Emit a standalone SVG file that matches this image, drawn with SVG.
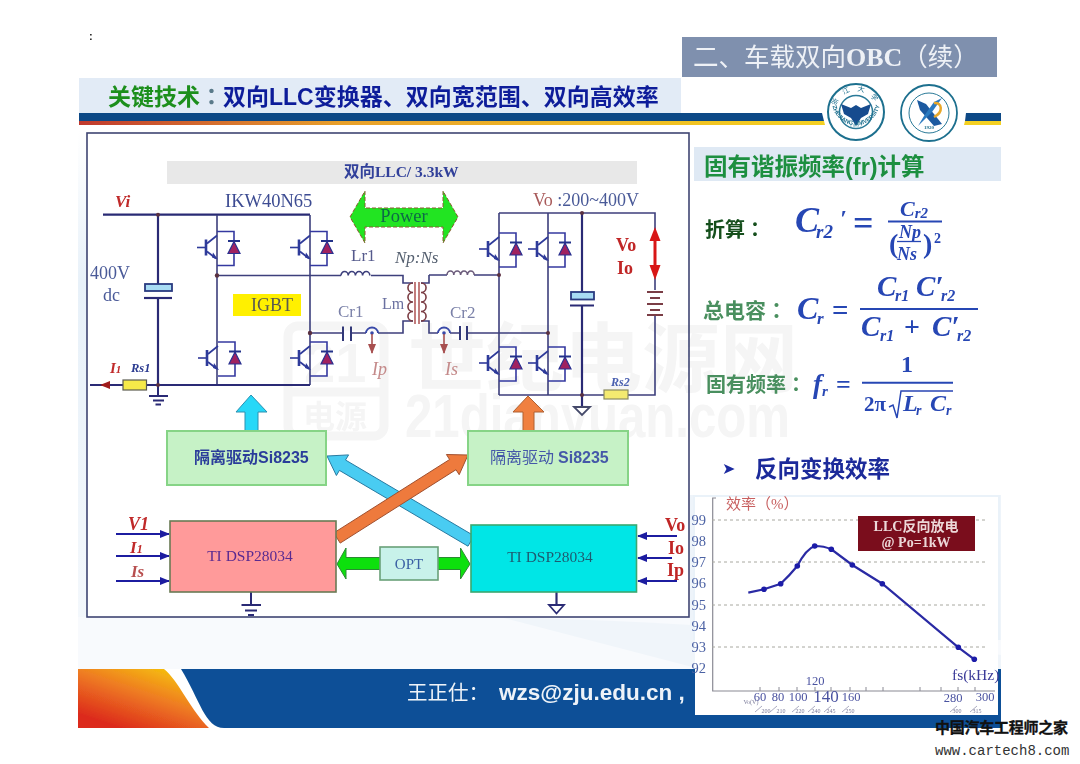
<svg xmlns="http://www.w3.org/2000/svg" xmlns:xlink="http://www.w3.org/1999/xlink" width="1080" height="764" viewBox="0 0 1080 764">
<style>
text{font-family:"Liberation Serif","Noto Sans CJK SC",serif}
.w{fill:none;stroke:#3d3f7c;stroke-width:1.6}
.wb{fill:none;stroke:#2a2c74;stroke-width:2.2}
.gy{fill:#555a8c;font-size:17px}
.red{fill:#c02626;font-weight:bold;font-size:18px}
.redi{fill:#c02a2a;font-weight:bold;font-style:italic;font-size:17px}
.pi{fill:#c48a8a;font-style:italic;font-size:18px}
.m{fill:#2846b4;font-style:italic;font-weight:bold;font-family:"Liberation Serif","DejaVu Serif",serif}
.mu{fill:#2846b4;font-weight:bold}
.gl{fill:#4a8f5e;font-weight:bold;font-size:21px}
.yl{fill:#4c62a4;font-size:14.500px;text-anchor:end}
.xl{fill:#4a52a0;font-size:12.500px;text-anchor:middle}
.xs{fill:#7a7a99;font-size:6px;text-anchor:middle}
.sl{stroke:#8a8aa6;stroke-width:.7}
.grid{stroke:#a8a8a0;stroke-width:1;stroke-dasharray:3 3}
.drv{fill:#c6f2c6;stroke:#86d486;stroke-width:2}
.yel{fill:#f6ea4a;stroke:#5a5a50;stroke-width:1.2}
.in{fill:none;stroke:#1c1ca0;stroke-width:2}
.wm{fill:#f5f5f5;font-weight:bold;font-family:"Liberation Sans","Noto Sans CJK SC",sans-serif}
</style>
<defs>
<filter id="soft" x="0" y="0" width="100%" height="100%"><feGaussianBlur stdDeviation="0.45"/></filter>
<linearGradient id="fire" x1="0" y1="1" x2="0.75" y2="0"><stop offset="0.15" stop-color="#dc2a1c"/><stop offset="0.6" stop-color="#ee7a22"/><stop offset="1" stop-color="#f6c30c"/></linearGradient>
<linearGradient id="und" x1="0" y1="0" x2="1" y2="0"><stop offset="0" stop-color="#c0392f"/><stop offset="0.35" stop-color="#e8a02c"/><stop offset="1" stop-color="#f4d020"/></linearGradient>
<linearGradient id="pale" x1="0" y1="0" x2="0" y2="1"><stop offset="0" stop-color="#fff"/><stop offset="0.3" stop-color="#e8f1f9"/><stop offset="1" stop-color="#f4f8fc"/></linearGradient>
<marker id="ahb" markerWidth="10" markerHeight="8" refX="9" refY="4" orient="auto" markerUnits="userSpaceOnUse"><path d="M0 0L10 4L0 8Z" fill="#1c1ca0"/></marker>
<marker id="ahr" markerWidth="10" markerHeight="8" refX="9" refY="4" orient="auto" markerUnits="userSpaceOnUse"><path d="M0 0L10 4L0 8Z" fill="#a85050"/></marker>
<g id="igbt">
<path d="M-20 0H-12" fill="none" stroke="#2f3a9a" stroke-width="1.6"/>
<path d="M-11 -8V8" fill="none" stroke="#2f3a9a" stroke-width="2.6"/>
<path d="M-10 -4L0 -12M-10 4L-1 11" fill="none" stroke="#2f3a9a" stroke-width="1.7"/>
<path d="M-4 5L1 12L-5 10Z" fill="#2f3a9a"/>
<path d="M0 -16H17V18H0" fill="none" stroke="#3438a0" stroke-width="1.6"/>
<path d="M11 -6.500H23" fill="none" stroke="#22308a" stroke-width="2"/>
<path d="M17 -6L11 6H23Z" fill="#a02060" stroke="#2a3090" stroke-width="1.2"/>
</g>
<g id="sense"><path d="M-6 0A6 5.500 0 0 1 6 0" fill="none" stroke="#3848a8" stroke-width="1.8"/><circle r="1.800" fill="#3848a8"/><path d="M0 1V20" stroke="#a85050" stroke-width="1.600" marker-end="url(#ahr)" fill="none"/></g>
</defs>
<rect width="1080" height="764" fill="#fff"/>
<g filter="url(#soft)">
<g id="background">
<path d="M78 130H87V640H78Z" fill="url(#pale)"/>
<path d="M78 617H1001V669H78Z" fill="#f8fafd"/>
<path d="M500 617Q800 625 1001 655V669H700Z" fill="#f0f5fa"/>
<path d="M690 495H1001V640H690Z" fill="#eef4fa"/>
</g>
<g id="header">
<rect x="682" y="37" width="315" height="40" fill="#7f90ae"/>
<text x="693" y="66" font-size="25.500px" fill="#eef1f6">二、车载双向<tspan font-weight="bold" font-size="26px">OBC</tspan>（续）</text>
<rect x="79" y="78" width="602" height="35" fill="#e2ebf6"/>
<text x="108" y="105" font-size="23px" font-weight="bold" fill="#0f1f9a" style="font-family:'Liberation Sans','Noto Sans CJK SC',sans-serif"><tspan fill="#1f8f1f">关键技术</tspan><tspan fill="#5a7a8a" style="font-family:'Noto Sans CJK TC',sans-serif">：</tspan>双向LLC变换器、双向宽范围、双向高效率</text>
<path d="M79 113H822L824 121H79Z" fill="#114a86"/>
<path d="M79 121H824L825 125H79Z" fill="url(#und)"/>
<path d="M966 113H1001V121H965Z" fill="#114a86"/>
<path d="M965 121H1001V125H964Z" fill="#f4d020"/>
<text x="89" y="40" font-size="11px" font-weight="bold" fill="#222" style="font-family:'Liberation Sans',sans-serif">:</text>
</g>
<g id="logo-zju">
<circle cx="856" cy="112" r="28" fill="#fff" stroke="#1d6f8e" stroke-width="2"/>
<circle cx="856" cy="112" r="16.500" fill="#fff" stroke="#2a7a98" stroke-width="1.500"/>
<path d="M841 104L851 108L856 105L861 108L871 104L868 114L861 118L856 126L851 118L844 114Z" fill="#134c8e"/>
<path id="zjuArc" d="M832.500 106A24 24 0 0 0 879.500 106" fill="none"/>
<path id="zjuTop" d="M835 112A21 21 0 0 1 877 112" fill="none"/>
<text font-size="5.800px" fill="#1d6f8e" font-weight="bold" style="font-family:'Liberation Sans',sans-serif"><textPath href="#zjuArc" xlink:href="#zjuArc">ZHEJIANG UNIVERSITY</textPath></text>
<text font-size="7px" fill="#1d6f8e"><textPath href="#zjuTop" xlink:href="#zjuTop" startOffset="6">浙　江　大　学</textPath></text>
<text x="856" y="127" font-size="4.500px" fill="#1d6f8e" text-anchor="middle">1 8 9 7</text>
</g>
<g id="logo-college">
<circle cx="929" cy="113" r="28" fill="#fff" stroke="#1d6f8e" stroke-width="1.800"/>
<circle cx="929" cy="113" r="20" fill="#fff" stroke="#2a7a98" stroke-width="1"/>
<path d="M917 100L926 104L942 124L934 126L920 110Z" fill="#1b5aa0"/>
<path d="M942 98L932 112L918 126L924 116L934 102Z" fill="#2c7ac0"/>
<path d="M934 103C942 102 944 112 934 117" fill="none" stroke="#e8a82a" stroke-width="2.500"/>
<text x="929" y="129" font-size="5px" fill="#1d6f8e" text-anchor="middle" font-weight="bold">1920</text>
</g>
<g id="watermark">
<g fill="none" stroke="#f5f5f5" stroke-width="9"><rect x="288" y="326" width="96" height="110" rx="10"/><path d="M288 392H384"/></g>
<text class="wm" x="304" y="382" font-size="56px">21</text>
<text class="wm" x="303" y="428" font-size="32px">电源</text>
<text class="wm" x="408" y="386" font-size="76px" textLength="390" lengthAdjust="spacingAndGlyphs">世纪电源网</text>
<text class="wm" x="405" y="437" font-size="61px" textLength="385" lengthAdjust="spacingAndGlyphs">21dianyuan.com</text>
</g>
<g id="frame"><rect x="87" y="133" width="602" height="484" fill="none" stroke="#3e4472" stroke-width="1.600"/></g>
<g id="connectors">
<path class="wb" d="M103 214.700H310M158 214.700V284M158 298V385"/>
<path class="w" d="M217 215V385M310 215V385"/>
<path class="wb" d="M90 385H310"/>
<path class="w" d="M217 275.500H341M371 275.500H403V283H413M413 321H403V333H378M366 333H351M343 333H310"/>
<path class="w" d="M429 275V283H421M421 321H429V333H438M450 333H460M467 333H548M429 275H447M474 275H499"/>
<path class="w" d="M341 275.500a3.600 4 0 0 1 7.200 0a3.600 4 0 0 1 7.200 0a3.600 4 0 0 1 7.200 0a3.600 4 0 0 1 7.200 0"/>
<path class="w" d="M447 275a3.400 4 0 0 1 6.800 0a3.400 4 0 0 1 6.800 0a3.400 4 0 0 1 6.800 0a3.400 4 0 0 1 6.800 0" style="stroke:#6a5a7a"/>
<path class="w" d="M413 283a5 4.700 0 0 0 0 9.500a5 4.700 0 0 0 0 9.500a5 4.700 0 0 0 0 9.500a5 4.700 0 0 0 0 9.500" style="stroke:#7a3c44"/>
<path class="w" d="M421 283a5 4.700 0 0 1 0 9.500a5 4.700 0 0 1 0 9.500a5 4.700 0 0 1 0 9.500a5 4.700 0 0 1 0 9.500" style="stroke:#7a3c44"/>
<path d="M415 282V324M419 282V324" stroke="#a84848" stroke-width="1.400" fill="none"/>
<path d="M343 326.500V341M351 326.500V341M460 326V340M467 326V340" stroke="#303878" stroke-width="2" fill="none"/>
<path class="w" d="M499 213V395M548 213V395"/>
<path class="w" d="M499 213H655V290M655 315V395H628M604 395H499"/>
<path class="wb" d="M582 213V292M582 306V407"/>
<path class="wb" d="M144 298H172"/>
<path d="M570 305.500H594" stroke="#2a2c74" stroke-width="2"/>
<path d="M647 292H663M650 298H660M647 304H663M650 310H660M647 315H663" stroke="#7a3c44" stroke-width="1.800" fill="none"/>
<path d="M158 385V395M149 396H168M153 400.500H164M155.500 404.500H161" stroke="#2a2c74" stroke-width="2" fill="none"/>
<path d="M574 407H590L582 415Z" fill="#fff" stroke="#444a6a" stroke-width="1.800"/>
<path d="M110 385H103" stroke="#a01c1c" stroke-width="2" fill="none"/>
<path d="M110 381L100 385L110 389Z" fill="#a01c1c"/>
<g fill="#5a3040"><circle cx="158" cy="214.700" r="2"/><circle cx="158" cy="385" r="2"/><circle cx="217" cy="275.500" r="2.200"/><circle cx="310" cy="333" r="2.200"/><circle cx="499" cy="275" r="2"/><circle cx="548" cy="333" r="2"/><circle cx="582" cy="213" r="2"/><circle cx="582" cy="395" r="2"/></g>
<use href="#sense" xlink:href="#sense" x="372" y="333"/>
<use href="#sense" xlink:href="#sense" x="444" y="333"/>
<path class="in" d="M116 534H169" marker-end="url(#ahb)"/>
<path class="in" d="M116 556H169" marker-end="url(#ahb)"/>
<path class="in" d="M116 581H169" marker-end="url(#ahb)"/>
<path d="M677 536H638" stroke="#1c1ca0" stroke-width="1.800" marker-end="url(#ahb)"/>
<path d="M672 558H638" stroke="#1c1ca0" stroke-width="1.800" marker-end="url(#ahb)"/>
<path d="M677 581H638" stroke="#1c1ca0" stroke-width="1.800" marker-end="url(#ahb)"/>
<path d="M251 592V605M241.500 605H261M245 610.500H257M248 615H254" stroke="#2a2c74" stroke-width="2" fill="none"/>
<path d="M556.500 592V605" stroke="#2a2c74" stroke-width="2.200"/>
<path d="M549 605H564L556.500 613.500Z" fill="#fff" stroke="#2a2c74" stroke-width="1.800"/>
<polygon points="474,535.800 345.500,460 348.600,454.900 327,456 336.400,475.500 339.400,470.400 468,546.200" fill="#48ccf2" stroke="#2a7aa0" stroke-width="1"/>
<polygon points="340.200,543.100 333.800,532.900 449.600,459.500 446.400,454.500 468,455 459.200,474.700 456,469.700" fill="#ee7a3c" stroke="#a05030" stroke-width="1"/>
<polygon points="251,395 267,412 258,412 258,431 245,431 245,412 236,412" fill="#28d8f8" stroke="#2a90b0" stroke-width="1"/>
<polygon points="528,396 544,412 534,412 534,431 523,431 523,412 513,412" fill="#f08040" stroke="#b06030" stroke-width="1"/>
<polygon points="337,564 346,548 346,557.500 460.500,557.500 460.500,548 470,564 460.500,579 460.500,569.500 346,569.500 346,579" fill="#10e010" stroke="#2a8a30" stroke-width="1"/>
<polygon points="350,217 365,191 365,208 443,208 443,191 458,217 443,243 443,227 365,227 365,243" fill="#22e422" stroke="#8a5a30" stroke-width="1" stroke-dasharray="4 2"/>
<path d="M655 240V265" stroke="#d81818" stroke-width="3"/>
<path d="M655 227L660.500 241H649.500ZM655 280L660.500 265H649.500Z" fill="#d81818"/>
</g>
<g id="n-igbt-q1"><use href="#igbt" xlink:href="#igbt" x="217" y="247.500"/></g>
<g id="n-igbt-q2"><use href="#igbt" xlink:href="#igbt" x="310" y="247.500"/></g>
<g id="n-igbt-q3"><use href="#igbt" xlink:href="#igbt" x="218" y="358"/></g>
<g id="n-igbt-q4"><use href="#igbt" xlink:href="#igbt" x="310" y="358"/></g>
<g id="n-igbt-q5"><use href="#igbt" xlink:href="#igbt" x="499" y="249"/></g>
<g id="n-igbt-q6"><use href="#igbt" xlink:href="#igbt" x="548" y="249"/></g>
<g id="n-igbt-q7"><use href="#igbt" xlink:href="#igbt" x="499" y="363"/></g>
<g id="n-igbt-q8"><use href="#igbt" xlink:href="#igbt" x="548" y="363"/></g>
<g id="n-cap-in"><rect x="145" y="284" width="27" height="7" fill="#a8dcf4" stroke="#2a3a80" stroke-width="1.800"/></g>
<g id="n-cap-out"><rect x="571" y="292" width="23" height="7.500" fill="#a8dcf4" stroke="#2a3a80" stroke-width="1.800"/></g>
<g id="n-rs1"><rect class="yel" x="123" y="380" width="23.500" height="10"/><text x="131" y="372" font-size="12.500px" font-weight="bold" font-style="italic" fill="#2a3a90">Rs1</text></g>
<g id="n-rs2"><rect class="yel" x="604" y="390" width="24" height="9" style="fill:#f4ea70;stroke:#8a8a60"/><text x="611" y="386" font-size="12px" font-style="italic" font-weight="bold" fill="#4a60b0">Rs2</text></g>
<g id="n-title"><rect x="167" y="161" width="470" height="23" fill="#e8e8e8"/><text x="344" y="177" font-size="15.500px" font-weight="bold" fill="#30409a">双向LLC/ 3.3kW</text></g>
<g id="n-igbt-label"><rect x="233" y="294" width="68" height="22" fill="#fff000"/><text x="251" y="311" font-size="18px" fill="#5a5a50">IGBT</text></g>
<g id="labels">
<text x="115" y="207" class="redi">Vi</text>
<text x="225" y="207" font-size="18.500px" fill="#3c4c92">IKW40N65</text>
<text x="90" y="279" font-size="18px" fill="#4a5a98">400V</text>
<text x="103" y="301" font-size="18px" fill="#4a5a98">dc</text>
<text x="110" y="373" class="redi" style="font-size:15px">I<tspan font-size="11px">1</tspan></text>
<text x="351" y="261" class="gy">Lr1</text>
<text x="338" y="317" class="gy" style="fill:#7a80a8">Cr1</text>
<text x="395" y="263" font-size="17px" font-style="italic" fill="#556070">Np:Ns</text>
<text x="382" y="309" class="gy" style="fill:#6a70a0;font-size:16px">Lm</text>
<text x="450" y="318" class="gy" style="fill:#7a80a8">Cr2</text>
<text x="372" y="375" class="pi">Ip</text>
<text x="445" y="375" class="pi">Is</text>
<text x="533" y="206" font-size="18px" fill="#4a5a98"><tspan fill="#a85a5a">Vo </tspan>:200~400V</text>
<text x="616" y="251" class="red">Vo</text>
<text x="617" y="274" class="red">Io</text>
<text x="128" y="530" class="redi" style="font-size:18px">V1</text>
<text x="130" y="553" class="redi">I<tspan font-size="12px">1</tspan></text>
<text x="131" y="577" class="redi" style="fill:#b85050">Is</text>
<text x="665" y="531" class="red">Vo</text>
<text x="668" y="554" class="red">Io</text>
<text x="667" y="576" class="red">Ip</text>
</g>
<g id="n-power"><text x="404" y="222" text-anchor="middle" font-size="18.500px" fill="#0e6a46">Power</text></g>
<g id="n-driver-l"><rect class="drv" x="167" y="431" width="159" height="54"/><text x="194" y="463" font-size="16px" font-weight="bold" fill="#2a3c9a">隔离驱动<tspan style="font-family:'Liberation Sans',sans-serif">Si8235</tspan></text></g>
<g id="n-driver-r"><rect class="drv" x="468" y="431" width="160" height="54"/><text x="490" y="463" font-size="16px" fill="#4458a8">隔离驱动 <tspan font-weight="bold" style="font-family:'Liberation Sans',sans-serif">Si8235</tspan></text></g>
<g id="n-dsp-l"><rect x="170" y="521" width="166" height="71" fill="#ff9a9a" stroke="#6a7a54" stroke-width="1.600"/><text x="250" y="561" text-anchor="middle" font-size="15.500px" fill="#5a2a90">TI DSP28034</text></g>
<g id="n-dsp-r"><rect x="471" y="525" width="165.500" height="67" fill="#06e6e6" stroke="#3aa870" stroke-width="1.600"/><text x="550" y="562" text-anchor="middle" font-size="15.500px" fill="#1c5a70">TI DSP28034</text></g>
<g id="n-opt"><rect x="380" y="547" width="58" height="33" fill="#c8f2ea" stroke="#6aa078" stroke-width="1.600"/><text x="409" y="569" text-anchor="middle" font-size="15px" fill="#3a60a4">OPT</text></g>
<g id="formulas">
<rect x="694" y="147" width="307" height="34" fill="#dfe9f4"/>
<text x="704" y="175" font-size="23.500px" font-weight="bold" fill="#1f8f3f" style="font-family:'Liberation Sans','Noto Sans CJK SC',sans-serif">固有谐振频率(fr)计算</text>
<text x="705" y="237" font-size="20px" font-weight="bold" fill="#15501f" style="font-family:'Noto Sans CJK TC',sans-serif">折算：</text>
<text class="m" x="795" y="232" font-size="36px">C</text><text class="m" x="816" y="238" font-size="19px">r2</text>
<text class="m" x="840" y="226" font-size="24px">′</text>
<text class="mu" x="853" y="235" font-size="36px">=</text>
<path d="M888 221.500H942" stroke="#2846b4" stroke-width="1.800"/>
<text class="m" x="900" y="216" font-size="22px">C<tspan font-size="15px" dy="2">r2</tspan></text>
<text class="m" x="899" y="238" font-size="18px">Np</text>
<path d="M897 241.500H921" stroke="#2846b4" stroke-width="1.300"/>
<text class="m" x="897" y="260" font-size="18px">Ns</text>
<text class="mu" x="889" y="253" font-size="28px" font-weight="normal">(</text><text class="mu" x="923" y="253" font-size="28px" font-weight="normal">)</text>
<text class="mu" x="934" y="243" font-size="14px">2</text>
<text class="gl" x="703" y="318" style="font-family:'Noto Sans CJK TC',sans-serif">总电容：</text>
<text class="m" x="797" y="319" font-size="32px">C</text><text class="m" x="817" y="324" font-size="17px">r</text>
<text class="mu" x="832" y="320" font-size="29px">=</text>
<path d="M860 309H978" stroke="#2846b4" stroke-width="2"/>
<text class="m" x="877" y="296" font-size="29px">C</text><text class="m" x="895" y="301" font-size="16px">r1</text>
<text class="m" x="916" y="296" font-size="29px">C′</text><text class="m" x="941" y="301" font-size="16px">r2</text>
<text class="m" x="861" y="336" font-size="29px">C</text><text class="m" x="880" y="341" font-size="16px">r1</text>
<text class="mu" x="904" y="336" font-size="28px">+</text>
<text class="m" x="932" y="336" font-size="29px">C′</text><text class="m" x="957" y="341" font-size="16px">r2</text>
<text class="gl" x="706" y="392" font-size="19px" style="font-family:'Noto Sans CJK TC',sans-serif;font-size:20px">固有频率：</text>
<text class="m" x="813" y="393" font-size="27px">f</text><text class="m" x="822" y="396" font-size="15px">r</text>
<text class="mu" x="836" y="393" font-size="26px">=</text>
<path d="M862 382.700H953" stroke="#2846b4" stroke-width="2"/>
<text class="mu" x="907" y="372" font-size="24px" text-anchor="middle" font-weight="normal">1</text>
<text class="mu" x="864" y="411" font-size="21px" font-weight="normal">2π</text>
<path d="M889 407L893 405L897 418L901 391H953" fill="none" stroke="#2846b4" stroke-width="1.500"/>
<text class="m" x="903" y="411" font-size="24px">L</text><text class="m" x="916" y="415" font-size="14px">r</text>
<text class="m" x="930" y="411" font-size="24px">C</text><text class="m" x="946" y="415" font-size="14px">r</text>
<text x="722" y="474" font-size="16px" fill="#1a2aa0" style="font-family:'DejaVu Sans',sans-serif">➤</text>
<text x="755" y="477" font-size="22.500px" font-weight="bold" fill="#1a2a9a" style="font-family:'Liberation Sans','Noto Sans CJK SC',sans-serif">反向变换效率</text>
</g>
<g id="footer">
<path d="M78 669H164C178 680 192 712 209 728H78Z" fill="url(#fire)"/>
<path d="M181 669H1001V728H224C205 728 200 700 181 669Z" fill="#0a5097"/>
<text x="407" y="700" font-size="20.500px" fill="#eef2f8">王正仕：</text>
<text x="499" y="700" font-size="22.500px" font-weight="bold" fill="#eef2f8" style="font-family:'Liberation Sans',sans-serif">wzs@zju.edu.cn ,</text>
</g>
<g id="chart">
<rect x="695" y="495" width="303" height="220" fill="#fff"/>
<path d="M693 495H1000V640H998V497H695V640H693Z" fill="#eaf2f9"/>
<path d="M716 498H712.700V691H995" fill="none" stroke="#8a8a94" stroke-width="1.200"/>
<g stroke="#8a8a94" stroke-width="1"><path d="M760 691v-4M779 691v-4M797 691v-4M815 691v-4M831 691v-4M850 691v-4M866 691v-4M883 691v-4M920 691v-4M941 691v-4M958 691v-4M975 691v-4"/></g>
<path class="grid" d="M712 520H985M712 562H985M712 605H985M712 647H985"/>
<text class="yl" x="706" y="525">99</text><text class="yl" x="706" y="546">98</text><text class="yl" x="706" y="567">97</text><text class="yl" x="706" y="588">96</text><text class="yl" x="706" y="610">95</text><text class="yl" x="706" y="631">94</text><text class="yl" x="706" y="652">93</text><text class="yl" x="706" y="673">92</text>
<text x="726" y="509" font-size="15px" fill="#c86060">效率（%）</text>
<rect x="858" y="516" width="117" height="35" fill="#7a0c1c"/>
<text x="916" y="531" text-anchor="middle" font-size="14px" font-weight="bold" fill="#ecd8d8">LLC反向放电</text>
<text x="916" y="547" text-anchor="middle" font-size="14px" font-weight="bold" fill="#ecd8d8">@ Po=1kW</text>
<path d="M748.300 592.700L764 589.300L780.700 583.700Q790 575 797.300 566Q806 549 814.700 546Q824 546 831.300 549.300L852.300 565L882.300 583.700L958.300 647.300L974.300 659.300" fill="none" stroke="#2a2aa4" stroke-width="2.200"/>
<g fill="#1c1ca8"><circle cx="764" cy="589.300" r="2.800"/><circle cx="780.700" cy="583.700" r="2.800"/><circle cx="797.300" cy="566" r="2.800"/><circle cx="814.700" cy="546" r="2.800"/><circle cx="831.300" cy="549.300" r="2.800"/><circle cx="852.300" cy="565" r="2.800"/><circle cx="882.300" cy="583.700" r="2.800"/><circle cx="958.300" cy="647.300" r="2.800"/><circle cx="974.300" cy="659.300" r="2.800"/></g>
<text x="952" y="680" font-size="15.500px" fill="#3a3a98">fs(kHz)</text>
<text class="xl" x="815" y="685">120</text>
<text class="xl" x="760" y="701">60</text><text class="xl" x="778" y="701">80</text><text class="xl" x="798" y="701">100</text>
<text class="xl" x="826" y="702" style="font-size:17px">140</text>
<text class="xl" x="851" y="701">160</text><text class="xl" x="953" y="702">280</text><text class="xl" x="985" y="701">300</text>
<text class="xs" x="751" y="704">Vo(V)</text>
<text class="xs" x="766" y="713">200</text><text class="xs" x="781" y="713">210</text><text class="xs" x="800" y="713">220</text><text class="xs" x="816" y="713">240</text><text class="xs" x="831" y="713">245</text><text class="xs" x="850" y="713">250</text><text class="xs" x="957" y="713">300</text><text class="xs" x="977" y="713">315</text>
<path class="sl" d="M755 712L762 706M770 712L777 706M792 712L799 706M808 712L815 706M824 712L831 706M842 712L849 706M950 712L957 706M970 712L977 706"/>
</g>
</g>
<g id="site-mark">
<text x="935" y="733" font-size="15px" font-weight="bold" fill="#111" stroke="#111" stroke-width=".3" textLength="133">中国汽车工程师之家</text>
<text x="935" y="755" font-size="14px" fill="#333" style="font-family:'Liberation Mono',monospace">www.cartech8.com</text>
</g>
</svg>
